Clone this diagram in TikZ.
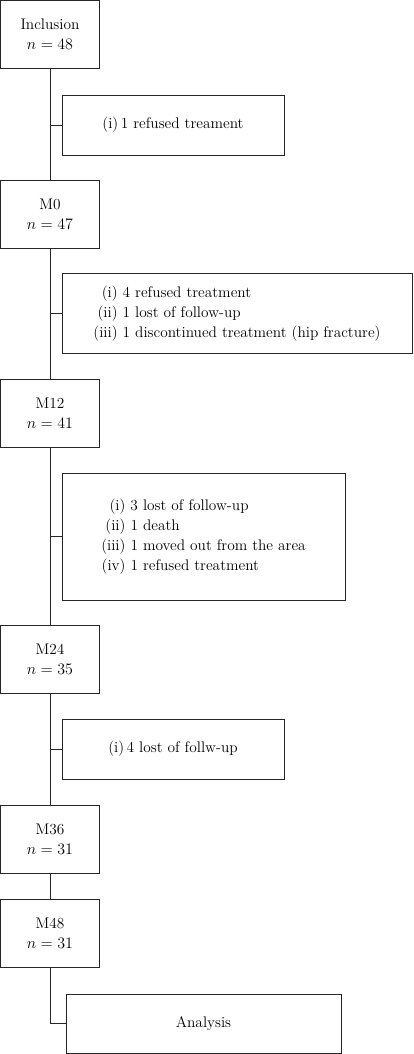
\documentclass[tikz,border=0pt]{standalone}
\usepackage{amsmath}
\usepackage{tikz}
\usetikzlibrary{positioning}

\begin{document}
\begin{tikzpicture}[x=0.75pt, y=-0.75pt, line width=0.75pt, draw=black!85,
  stage/.style={draw=black!85, minimum width=99pt*0.75, minimum height=68pt*0.75, inner sep=0pt, align=center, font=\fontsize{11.5}{15}\selectfont},
  excl/.style={draw=black!85, inner sep=0pt, align=center, font=\fontsize{11.5}{15}\selectfont}]
  \useasboundingbox (0,0) rectangle (414,1054);

  \node [stage] (inc) at (50,34.5) {Inclusion\\$n = 48$};
  \node [excl, minimum width=222*0.75pt, minimum height=60*0.75pt] (ex1) at (173,125) {(i)\,1 refused treament};
  \node [stage] (m0) at (50,214.5) {M0\\$n = 47$};
  \node [excl, minimum width=350*0.75pt, minimum height=80*0.75pt] (ex2) at (237,313)
    {\begin{tabular}{@{}r@{\ }l@{}}
      (i) & 4 refused treatment\\
      (ii) & 1 lost of follow-up\\
      (iii) & 1 discontinued treatment (hip fracture)
    \end{tabular}};
  \node [stage] (m12) at (50,413) {M12\\$n = 41$};
  \node [excl, minimum width=283*0.75pt, minimum height=127*0.75pt] (ex3) at (203.5,536.5)
    {\begin{tabular}{@{}r@{\ }l@{}}
      (i) & 3 lost of follow-up\\
      (ii) & 1 death\\
      (iii) & 1 moved out from the area\\
      (iv) & 1 refused treatment
    \end{tabular}};
  \node [stage] (m24) at (50,659.5) {M24\\$n = 35$};
  \node [excl, minimum width=222*0.75pt, minimum height=60*0.75pt] (ex4) at (173,749) {(i)\,4 lost of follw-up};
  \node [stage] (m36) at (50,839.5) {M36\\$n = 31$};
  \node [stage] (m48) at (50,933) {M48\\$n = 31$};
  \node [excl, minimum width=275*0.75pt, minimum height=59*0.75pt] (ana) at (203.5,1023.5) {Analysis};

  % main line
  \draw (inc) -- (m0) -- (m12) -- (m24) -- (m36) -- (m48);
  \draw (m48.south) |- (ana.west);

  % exclusions
  \draw (ex1.west) -- (ex1.west -| inc.south);
  \draw (ex2.west) -- (ex2.west -| inc.south);
  \draw (ex3.west) -- (ex3.west -| inc.south);
  \draw (ex4.west) -- (ex4.west -| inc.south);
\end{tikzpicture}
\end{document}
